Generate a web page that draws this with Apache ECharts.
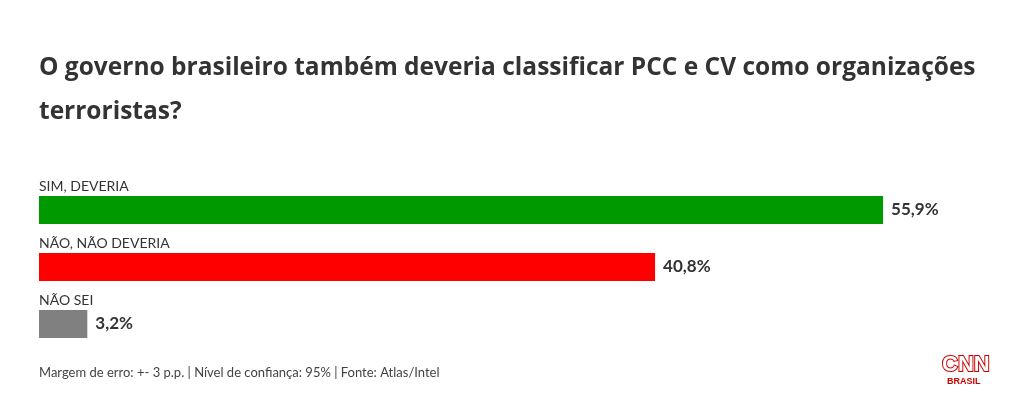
<!DOCTYPE html>
<html>
<head>
<meta charset="utf-8">
<script src="https://cdn.jsdelivr.net/npm/echarts@6/dist/echarts.min.js"></script>
<style>
  html, body { margin: 0; padding: 0; background: #fff; }
  #chart { width: 1020px; height: 401px; }
</style>
</head>
<body>
<div id="chart"></div>
<script>
// dados
const categories = ['SIM, DEVERIA', 'NÃO, NÃO DEVERIA', 'NÃO SEI']
const values = [55.9, 40.8, 3.2]
const barColors = ['#009900', '#ff0000', '#808080']

const chart = echarts.init(document.getElementById('chart'))

const option = {
  backgroundColor: '#fff',
  animation: false,
  title: {
    text: 'O governo brasileiro também deveria classificar PCC e CV como organizações\nterroristas?',
    left: 39,
    top: 46,
    padding: 0,
    textStyle: {
      fontFamily: 'Open Sans',
      fontWeight: 'bold',
      fontSize: 24.5,
      lineHeight: 44,
      color: '#333',
    },
  },
  grid: {
    left: 39,
    top: 181.5,
    width: 906,
    height: 171,
    containLabel: false,
  },
  xAxis: {
    type: 'value',
    min: 0,
    max: 60,
    show: false,
  },
  yAxis: {
    type: 'category',
    data: categories,
    inverse: true,
    axisLine: { show: false },
    axisTick: { show: false },
    axisLabel: {
      inside: true,
      margin: 0,
      align: 'left',
      verticalAlign: 'bottom',
      padding: [0, 0, 17, 0],
      fontFamily: 'Lato',
      fontSize: 14,
      color: '#333',
    },
  },
  series: [
    {
      type: 'bar',
      data: values.map((v, i) => ({ value: v, itemStyle: { color: barColors[i] } })),
      barWidth: 28,
      label: {
        show: true,
        position: 'right',
        distance: 8,
        formatter: (p) => p.value.toFixed(1).replace('.', ',') + '%',
        fontFamily: 'Lato',
        fontWeight: 'bold',
        fontSize: 17,
        color: '#333',
      },
    },
  ],
  graphic: [
    {
      type: 'text',
      left: 39,
      top: 366,
      style: {
        text: 'Margem de erro: +- 3 p.p. | Nível de confiança: 95% | Fonte: Atlas/Intel',
        fontFamily: 'Lato',
        fontSize: 13,
        fill: '#444',
      },
    },
    {
      type: 'text',
      left: 941,
      top: 353,
      style: {
        text: 'CNN',
        fontFamily: 'Liberation Sans',
        fontWeight: 'bold',
        fontSize: 22,
        fill: '#fff',
        stroke: '#cc0000',
        lineWidth: 2,
      },
    },
    {
      type: 'text',
      left: 947,
      top: 377,
      style: {
        text: 'BRASIL',
        fontFamily: 'Liberation Sans',
        fontWeight: 'bold',
        fontSize: 9,
        fill: '#cc0000',
      },
    },
  ],
}

chart.setOption(option)
</script>
</body>
</html>
